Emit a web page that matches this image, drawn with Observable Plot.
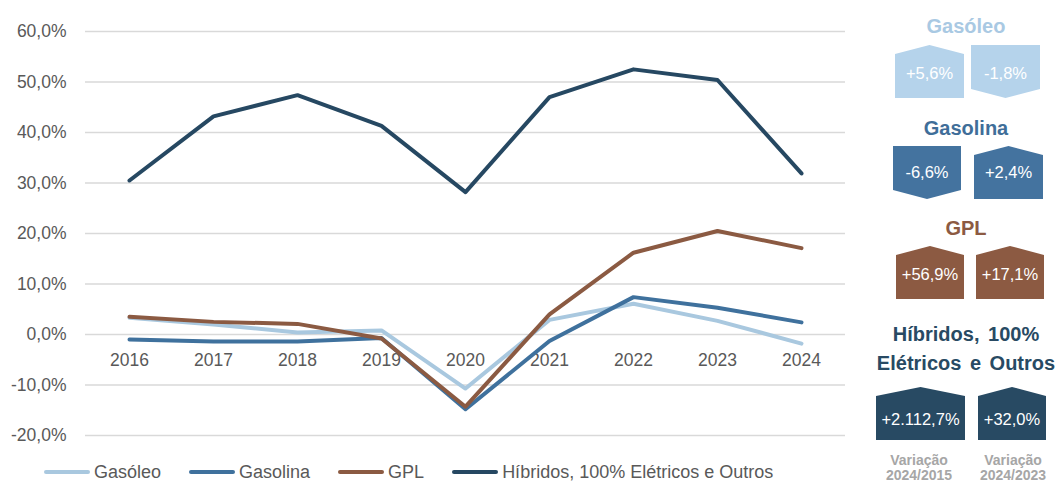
<!DOCTYPE html>
<html>
<head>
<meta charset="utf-8">
<script src="https://cdn.jsdelivr.net/npm/d3@7"></script>
<script src="https://cdn.jsdelivr.net/npm/@observablehq/plot@0.6"></script>
<style>
  html, body { margin: 0; padding: 0; background: #fff; }
  #wrap { position: relative; width: 1057px; height: 484px; overflow: hidden; font-family: "Liberation Sans", Arial, sans-serif; }
  #chart svg { display: block; }
  #legend { height: 34px; box-sizing: border-box; padding: 10px 0 0 44px; display: flex; align-items: center; font-size: 18px; color: #595959; width: 860px; }
  #legend .item { display: flex; align-items: center; margin-right: 28px; white-space: nowrap; }
  #legend .sw { width: 46px; height: 4px; border-radius: 2px; margin-right: 4px; }
  #panel { position: absolute; left: 860px; top: 0; }
</style>
</head>
<body>
<div id="wrap">
  <div id="chart"></div>
  <div id="legend"></div>
  <svg id="panel" width="197" height="484"></svg>
</div>
<script>
// ---- data ----
const years = [2016, 2017, 2018, 2019, 2020, 2021, 2022, 2023, 2024];
const seriesNames = ["Gasóleo", "Gasolina", "GPL", "Híbridos, 100% Elétricos e Outros"];
const gasoleo  = [3.3, 2.0, 0.4, 0.8, -10.7, 2.9, 6.1, 2.7, -1.8];
const gasolina = [-1.0, -1.4, -1.4, -0.7, -14.8, -1.3, 7.4, 5.3, 2.4];
const gpl      = [3.5, 2.5, 2.1, -0.8, -14.3, 4.0, 16.2, 20.5, 17.1];
const hibridos = [30.5, 43.2, 47.4, 41.3, 28.2, 47.0, 52.5, 50.4, 31.9];
const yTicks = [-20, -10, 0, 10, 20, 30, 40, 50, 60];
const lineColors = ["#a9c8df", "#3f719d", "#8b5a42", "#264862"];

// side panel data
const panelTitles = [["Gasóleo"], ["Gasolina"], ["GPL"], ["Híbridos, 100%", "Elétricos e Outros"]];
const var2024_2015 = [5.6, -6.6, 56.9, 2112.7];
const var2024_2023 = [-1.8, 2.4, 17.1, 32.0];
const panelColumnLabels = [["Variação", "2024/2015"], ["Variação", "2024/2023"]];
const panelBoxColors = ["#b5d3eb", "#44739f", "#8c5a42", "#284a63"];
const panelTitleColors = ["#a9c9e3", "#3f6e99", "#8c5a42", "#284a63"];

// ---- main chart ----
const allSeries = [gasoleo, gasolina, gpl, hibridos];
const table = [];
allSeries.forEach((vals, si) => vals.forEach((v, i) => table.push({ series: seriesNames[si], year: years[i], value: v })));

const fmtPct = d => d.toFixed(1).replace(".", ",") + "%";

const chart = Plot.plot({
  width: 860,
  height: 450,
  marginLeft: 85,
  marginRight: 15,
  marginTop: 31,
  marginBottom: 15,
  style: { fontFamily: "'Liberation Sans', Arial, sans-serif", background: "#fff" },
  x: { type: "point", domain: years, padding: 0.5, axis: null },
  y: { domain: [-20, 60], axis: null },
  color: { domain: seriesNames, range: lineColors },
  marks: [
    Plot.ruleY(yTicks, { stroke: "#d9d9d9", strokeWidth: 1.4 }),
    Plot.axisY(yTicks, { tickSize: 0, tickPadding: 19, tickFormat: fmtPct, fontSize: 17.5, fill: "#595959", label: null }),
    Plot.text(years, { x: d => d, y: () => 0, dy: 26, text: d => String(d), fontSize: 17.5, fill: "#595959" }),
    Plot.line(table, { x: "year", y: "value", z: "series", stroke: "series", strokeWidth: 4, strokeLinecap: "round", strokeLinejoin: "round" })
  ]
});
document.getElementById("chart").appendChild(chart);

// ---- legend ----
const legend = d3.select("#legend");
seriesNames.forEach((name, i) => {
  const it = legend.append("div").attr("class", "item");
  it.append("div").attr("class", "sw").style("background", lineColors[i]);
  it.append("span").text(name);
});

// ---- side panel ----
const loc = d3.formatLocale({ decimal: ",", thousands: ".", grouping: [3], currency: ["", "€"], minus: "-" });
const fmtVar = v => loc.format("+,.1f")(v) + "%";
const panel = d3.select("#panel");
const ox = 860;
// layout (page coordinates)
const rowTop = [45, 146, 246, 387];
const boxH = 53, tip = 9;
const leftBox = [[895, 964], [893, 961], [896, 964], [876, 965]];
const rightBox = [[971, 1040], [974, 1043], [976, 1044], [978, 1046]];
const textY = [73, 172, 274, 419];
const titleY = [[26], [128], [228], [334, 363]];

function boxPath(x0, x1, top, value) {
  const xm = (x0 + x1) / 2, bottom = top + boxH;
  if (value >= 0) {
    return `M${x0 - ox},${top + tip}L${xm - ox},${top}L${x1 - ox},${top + tip}L${x1 - ox},${bottom}L${x0 - ox},${bottom}Z`;
  } else {
    return `M${x0 - ox},${top}L${x1 - ox},${top}L${x1 - ox},${bottom - tip}L${xm - ox},${bottom}L${x0 - ox},${bottom - tip}Z`;
  }
}

panelTitles.forEach((lines, r) => {
  lines.forEach((ln, k) => {
    panel.append("text")
      .attr("x", 966 - ox).attr("y", titleY[r][k])
      .attr("text-anchor", "middle").attr("dominant-baseline", "central")
      .attr("font-family", "'Liberation Sans', Arial, sans-serif").attr("font-weight", "bold")
      .attr("font-size", 20).attr("word-spacing", r === 3 ? 3 : 0)
      .attr("fill", panelTitleColors[r]).text(ln);
  });
  [[leftBox[r], var2024_2015[r]], [rightBox[r], var2024_2023[r]]].forEach(([bx, v]) => {
    panel.append("path").attr("d", boxPath(bx[0], bx[1], rowTop[r], v)).attr("fill", panelBoxColors[r]);
    panel.append("text")
      .attr("x", (bx[0] + bx[1]) / 2 - ox).attr("y", textY[r])
      .attr("text-anchor", "middle").attr("dominant-baseline", "central")
      .attr("font-family", "'Liberation Sans', Arial, sans-serif")
      .attr("font-size", 16.5).attr("fill", "#fff").text(fmtVar(v));
  });
});

panelColumnLabels.forEach((lines, c) => {
  lines.forEach((ln, k) => {
    panel.append("text")
      .attr("x", [919, 1013][c] - ox).attr("y", [460, 475][k])
      .attr("text-anchor", "middle").attr("dominant-baseline", "central")
      .attr("font-family", "'Liberation Sans', Arial, sans-serif").attr("font-weight", "bold")
      .attr("font-size", 14).attr("fill", "#a6a6a6").text(ln);
  });
});
</script>
</body>
</html>
